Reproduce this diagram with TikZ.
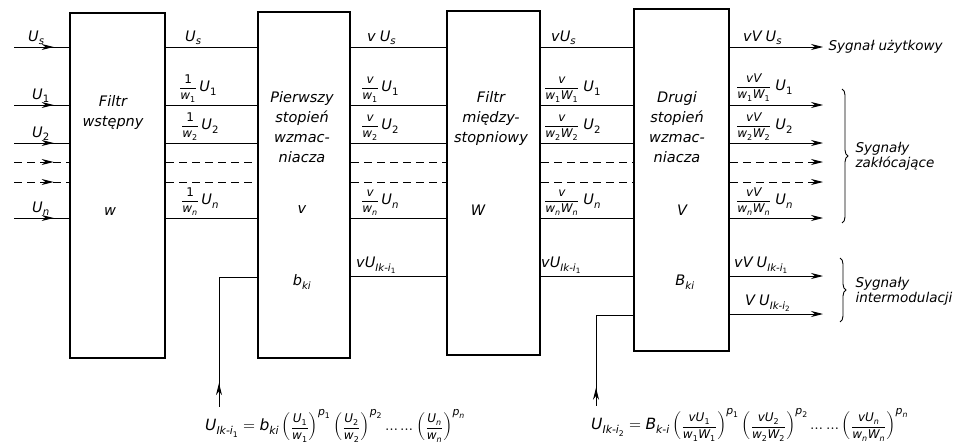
\documentclass[tikz,border=0pt]{standalone}
\usepackage{amsmath}
\usepackage{unicode-math}
\setsansfont{DejaVu Sans}
\setmathfont{Latin Modern Math}
\setmathfont{DejaVu Sans Oblique}[range=it->up]
\setmathfont{DejaVu Sans}[range=up/num]
\usetikzlibrary{arrows.meta,decorations.pathreplacing,decorations.markings}
% fraction with readable numerator and denominator
\newcommand{\sfr}[2]{\text{\fontsize{12}{13}\selectfont$\dfrac{#1}{#2}$}}

\begin{document}
\begin{tikzpicture}[x=1pt, y=-1pt, >={Stealth[length=12pt,width=6pt]},
  font=\fontsize{14.5}{20}\selectfont\sffamily\itshape,
  blk/.style={draw, line width=2.4pt, anchor=north west, inner sep=0pt},
  sig/.style={line width=0.9pt},
  dsig/.style={line width=0.9pt, dash pattern=on 8pt off 5pt},
  lbl/.style={anchor=south west, inner sep=1pt},
  grp/.style={anchor=west, align=left, font=\fontsize{13.5}{15}\selectfont\sffamily\itshape},
  form/.style={anchor=west, inner sep=3pt, font=\fontsize{15.5}{18}\selectfont\sffamily\itshape},
  midarrow/.style={postaction={decorate, decoration={markings, mark=at position #1 with {\arrow{>}}}}},
  brc/.style={decorate, decoration={brace, amplitude=6pt}, line width=0.9pt}]
\useasboundingbox (0,0) rectangle (962,447);
% blocks
\node[blk, minimum width=95pt, minimum height=345pt] (fw) at (69,12) {};
\node[blk, minimum width=92pt, minimum height=346pt] (ps) at (257,11) {};
\node[blk, minimum width=93pt, minimum height=344pt] (fm) at (446,10) {};
\node[blk, minimum width=95pt, minimum height=342pt] (ds) at (633,8) {};
\node[align=center] (fwt) at (113,112) {Filtr\\wstępny};
\node[align=center] (pst) at (302,127) {Pierwszy\\stopień\\wzmac-\\niacza};
\node[align=center] (fmt) at (491,118) {Filtr\\między-\\stopniowy};
\node[align=center] (dst) at (677,127) {Drugi\\stopień\\wzmac-\\niacza};
\node (fwk) at (110,212) {$w$};
\node (psk) at (302,210) {$v$};
\node (psb) at (302,282) {$b_{ki}$};
\node (fmk) at (478,210) {$W$};
\node (dsk) at (682,210) {$V$};
\node (dsb) at (685,282) {$B_{ki}$};
% line ends
\coordinate (inbeg) at (14,0);
\coordinate (outend) at (823,0);
\foreach \y in {47,105,143,218} {
  \draw[sig, midarrow=0.72] (inbeg |- 0,\y) -- (fw.west |- 0,\y);
  \draw[sig] (fw.east |- 0,\y) -- (ps.west |- 0,\y);
  \draw[sig] (ps.east |- 0,\y) -- (fm.west |- 0,\y);
  \draw[sig] (fm.east |- 0,\y) -- (ds.west |- 0,\y);
  \draw[sig, ->] (ds.east |- 0,\y) -- (outend |- 0,\y);
}
\foreach \y in {162,182} {
  \draw[dsig, midarrow=0.72] (inbeg |- 0,\y) -- (fw.west |- 0,\y);
  \draw[dsig] (fw.east |- 0,\y) -- (ps.west |- 0,\y);
  \draw[dsig] (ps.east |- 0,\y) -- (fm.west |- 0,\y);
  \draw[dsig] (fm.east |- 0,\y) -- (ds.west |- 0,\y);
  \draw[dsig, ->] (ds.east |- 0,\y) -- (outend |- 0,\y);
}
\draw[sig] (ps.east |- 0,276) -- (fm.west |- 0,276);
\draw[sig] (fm.east |- 0,276) -- (ds.west |- 0,276);
\draw[sig, ->] (ds.east |- 0,276) -- (outend |- 0,276);
\draw[sig, ->] (ds.east |- 0,314) -- (outend |- 0,314);
% input labels
\node[lbl] (ins) at (27,46) {$U_s$};
\node[lbl] (in1) at (31,104) {$U_1$};
\node[lbl] (in2) at (31,142) {$U_2$};
\node[lbl] (inn) at (31,217) {$U_n$};
% labels after first block
\node[lbl] (as) at (184,46) {$U_s$};
\node[lbl] (a1) at (178,104) {$\sfr{1}{w_1}\,U_1$};
\node[lbl] (a2) at (180,142) {$\sfr{1}{w_2}\,U_2$};
\node[lbl] (an) at (180,217) {$\sfr{1}{w_n}\,U_n$};
% labels after second block
\node[lbl] (bs) at (366,46) {$v\;U_s$};
\node[lbl] (b1) at (360,104) {$\sfr{v}{w_1}\,U_1$};
\node[lbl] (b2) at (360,142) {$\sfr{v}{w_2}\,U_2$};
\node[lbl] (bn) at (360,217) {$\sfr{v}{w_n}\,U_n$};
\node[lbl] (bi) at (355,275) {$vU_{Ik\text{-}i_1}$};
% labels after third block
\node[lbl] (cs) at (550,46) {$vU_s$};
\node[lbl] (c1) at (543,104) {$\sfr{v}{w_1W_1}\;U_1$};
\node[lbl] (c2) at (543,142) {$\sfr{v}{w_2W_2}\;U_2$};
\node[lbl] (cn) at (543,217) {$\sfr{v}{w_nW_n}\;U_n$};
\node[lbl] (ci) at (540,275) {$vU_{Ik\text{-}i_1}$};
% output labels
\node[lbl] (ds0) at (742,46) {$vV\;U_s$};
\node[lbl] (d1) at (735,103) {$\sfr{vV}{w_1W_1}\;U_1$};
\node[lbl] (d2) at (735,142) {$\sfr{vV}{w_2W_2}\;U_2$};
\node[lbl] (dn) at (735,217) {$\sfr{vV}{w_nW_n}\;U_n$};
\node[lbl] (di1) at (733,275) {$vV\;U_{Ik\text{-}i_1}$};
\node[lbl] (di2) at (744,313) {$V\;U_{Ik\text{-}i_2}$};
% output groups
\node[grp] (use) at (825,47) {Sygnał użytkowy};
\coordinate (za) at (842,89);
\coordinate (zb) at (842,223);
\draw[brc] (za) -- (zb);
\node[grp] (zak) at (852,156) {Sygnały\\zakłócające};
\coordinate (ia) at (840,258);
\coordinate (ib) at (840,322);
\draw[brc] (ia) -- (ib);
\node[grp] (imd) at (852,291) {Sygnały\\intermodulacji};
% intermodulation feeds
\node[form] (fa) at (202,426) {$U_{Ik\text{-}i_1}=b_{ki}\left(\sfr{U_1}{w_1}\right)^{p_1}\left(\sfr{U_2}{w_2}\right)^{p_2}\ldots\ldots\left(\sfr{U_n}{w_n}\right)^{p_n}$};
\node[form] (fb) at (588,425) {$U_{Ik\text{-}i_2}=B_{k\text{-}i}\left(\sfr{vU_1}{w_1W_1}\right)^{p_1}\left(\sfr{vU_2}{w_2W_2}\right)^{p_2}\ldots\ldots\left(\sfr{vU_n}{w_nW_n}\right)^{p_n}$};
\coordinate (ka) at (219,0);
\coordinate (kb) at (596,0);
\draw[sig, midarrow=0.14] (fa.north -| ka) |- (ps.west |- 0,277);
\draw[sig, midarrow=0.14] (fb.north -| kb) |- (ds.west |- 0,315);
\end{tikzpicture}
\end{document}
